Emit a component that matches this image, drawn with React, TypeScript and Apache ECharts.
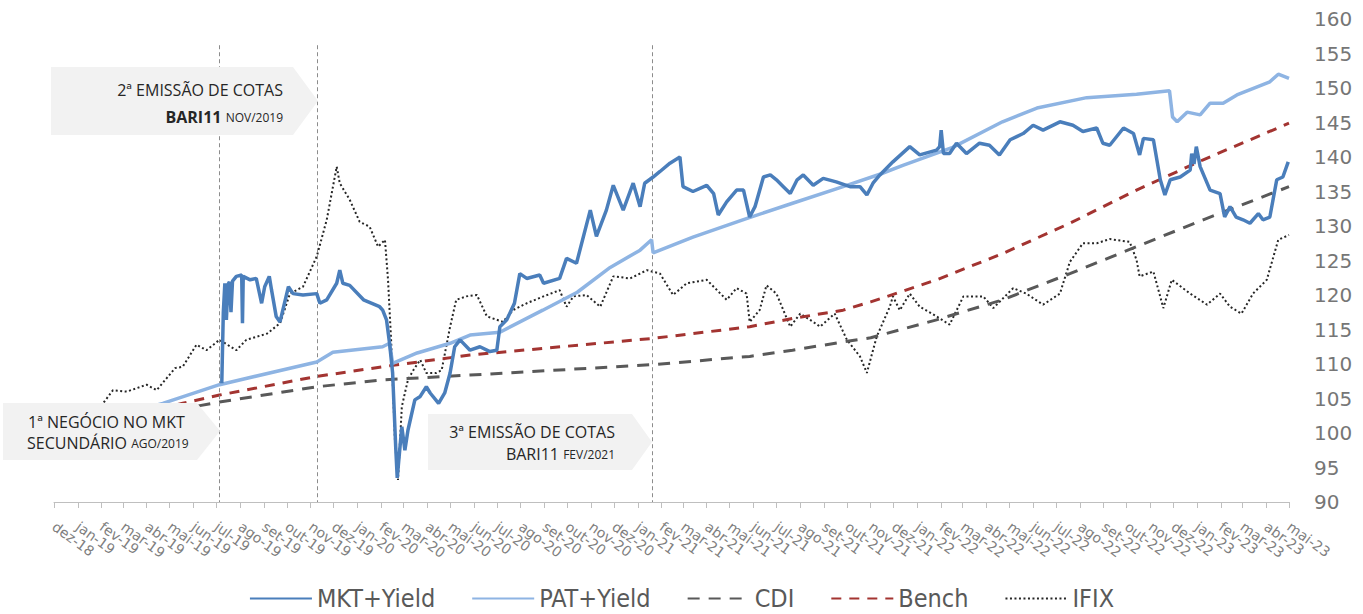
import React, { useEffect, useRef } from "react";
import * as echarts from "echarts";

const monthNames = ["jan", "fev", "mar", "abr", "mai", "jun", "jul", "ago", "set", "out", "nov", "dez"];
const xStart = "2018-12-01";
const xEnd = "2023-05-01";
const yMin = 90;
const yMax = 160;
const yStep = 5;

const seriesNames = ["MKT+Yield", "PAT+Yield", "CDI", "Bench", "IFIX"];

const mktDates = [
  "2019-07-08", "2019-07-10", "2019-07-12", "2019-07-14", "2019-07-16", "2019-07-18", "2019-07-20", "2019-07-22", "2019-07-27",
  "2019-08-03", "2019-08-04", "2019-08-05", "2019-08-14", "2019-08-22", "2019-08-29", "2019-09-02", "2019-09-08", "2019-09-11",
  "2019-09-17", "2019-09-22", "2019-10-03", "2019-10-09", "2019-10-22", "2019-11-09", "2019-11-13", "2019-11-22", "2019-12-05",
  "2019-12-09", "2019-12-13", "2019-12-22", "2020-01-09", "2020-01-30", "2020-02-03", "2020-02-08", "2020-02-12", "2020-02-16",
  "2020-02-20", "2020-02-22", "2020-02-24", "2020-02-28", "2020-03-03", "2020-03-07", "2020-03-16", "2020-03-23", "2020-03-31",
  "2020-04-05", "2020-04-16", "2020-04-24", "2020-05-01", "2020-05-07", "2020-05-14", "2020-05-27", "2020-06-09", "2020-06-22",
  "2020-07-01", "2020-07-05", "2020-07-14", "2020-07-24", "2020-07-31", "2020-08-09", "2020-08-26", "2020-08-31", "2020-09-21",
  "2020-09-30", "2020-10-13", "2020-10-31", "2020-11-08", "2020-11-21", "2020-11-30", "2020-12-13", "2020-12-26", "2021-01-04",
  "2021-01-10", "2021-01-21", "2021-01-30", "2021-02-12", "2021-02-25", "2021-03-01", "2021-03-14", "2021-04-01", "2021-04-10",
  "2021-04-16", "2021-04-27", "2021-05-10", "2021-05-19", "2021-05-27", "2021-06-03", "2021-06-14", "2021-06-23", "2021-07-01",
  "2021-07-10", "2021-07-19", "2021-07-28", "2021-08-05", "2021-08-18", "2021-08-31", "2021-09-17", "2021-10-05", "2021-10-18",
  "2021-10-27", "2021-11-04", "2021-11-13", "2021-11-30", "2021-12-22", "2022-01-04", "2022-01-26", "2022-01-30", "2022-02-01",
  "2022-02-04", "2022-02-12", "2022-02-21", "2022-03-06", "2022-03-23", "2022-04-05", "2022-04-18", "2022-05-02", "2022-05-19",
  "2022-06-01", "2022-06-14", "2022-07-06", "2022-07-23", "2022-08-05", "2022-08-23", "2022-08-31", "2022-09-09", "2022-09-27",
  "2022-10-10", "2022-10-18", "2022-10-23", "2022-11-05", "2022-11-14", "2022-11-20", "2022-11-27", "2022-12-10", "2022-12-23",
  "2022-12-25", "2022-12-28", "2022-12-31", "2023-01-05", "2023-01-18", "2023-01-31", "2023-02-06", "2023-02-13", "2023-02-21",
  "2023-03-02", "2023-03-11", "2023-03-22", "2023-03-28", "2023-04-06", "2023-04-15", "2023-04-23", "2023-04-30",
];
const mktValues = [
  107.2, 117.5, 121.7, 116.4, 121.5, 121.9, 117.5, 122.0, 122.7,
  122.9, 115.9, 122.7, 122.2, 122.4, 118.8, 121.2, 122.7, 120.7,
  116.9, 116.1, 121.2, 120.2, 120.0, 120.2, 118.8, 119.3, 121.7,
  123.6, 121.7, 121.4, 119.3, 118.3, 117.8, 116.4, 113.0, 108.7,
  98.0, 93.5, 96.0, 100.9, 97.5, 100.4, 104.8, 105.3, 106.7,
  105.8, 104.3, 105.8, 108.7, 112.5, 113.5, 112.0, 112.5, 111.8,
  112.0, 115.4, 116.4, 118.8, 123.1, 122.4, 122.9, 121.7, 122.4,
  125.3, 124.6, 132.3, 128.5, 132.3, 135.9, 132.3, 136.2, 132.8,
  136.2, 137.1, 137.9, 139.1, 140.0, 135.7, 135.0, 135.9, 134.7,
  131.6, 133.5, 135.2, 135.2, 131.3, 132.8, 137.1, 137.4, 136.7,
  135.7, 134.7, 136.7, 137.4, 135.9, 136.9, 136.4, 135.7, 135.7,
  134.5, 136.2, 137.4, 139.3, 141.5, 140.3, 141.0, 141.5, 143.9,
  140.5, 140.5, 142.0, 140.5, 142.0, 141.7, 140.3, 142.5, 143.4,
  144.6, 143.9, 145.1, 144.6, 143.7, 144.2, 142.0, 141.7, 144.2,
  143.4, 140.3, 142.7, 142.5, 136.7, 134.5, 136.7, 137.1, 138.1,
  140.5, 139.0, 141.5, 138.6, 135.2, 134.7, 131.3, 132.8, 131.3,
  130.9, 130.4, 131.8, 130.9, 131.3, 136.7, 137.1, 139.3,
];

const patDates = [
  "2018-12-01", "2019-04-22", "2019-07-05", "2019-11-09", "2019-11-30", "2020-02-03", "2020-02-12", "2020-02-16", "2020-03-19",
  "2020-05-01", "2020-05-27", "2020-07-05", "2020-08-30", "2020-10-14", "2020-11-26", "2021-01-04", "2021-01-19", "2021-01-21",
  "2021-03-14", "2021-05-18", "2021-07-22", "2021-09-26", "2021-11-13", "2021-12-13", "2022-02-16", "2022-04-22", "2022-06-06",
  "2022-08-10", "2022-10-14", "2022-11-26", "2022-11-30", "2022-12-06", "2022-12-19", "2023-01-05", "2023-01-18", "2023-02-04",
  "2023-02-22", "2023-04-06", "2023-04-17", "2023-05-01",
];
const patValues = [
  100.0, 104.3, 107.0, 110.3, 111.7, 112.5, 113.0, 110.1, 111.6,
  113.0, 114.2, 114.6, 117.8, 120.4, 124.0, 126.5, 128.0, 126.1,
  128.4, 130.9, 133.3, 135.7, 137.5, 138.8, 141.4, 145.1, 147.1,
  148.6, 149.1, 149.6, 145.8, 145.1, 146.5, 146.1, 147.8, 147.8,
  149.0, 150.9, 152.0, 151.4,
];

const cdiDates = [
  "2018-12-01", "2019-07-05", "2019-11-09", "2020-02-03", "2020-05-27", "2021-01-20", "2021-05-27", "2021-07-22", "2021-09-26",
  "2021-11-01", "2022-01-26", "2022-04-22", "2022-07-19", "2022-10-14", "2023-01-09", "2023-05-01",
];
const cdiValues = [100.0, 104.5, 106.7, 107.7, 108.4, 109.9, 111.1, 112.0, 113.2, 113.8, 116.4, 119.3, 123.1, 127.0, 130.9, 135.7];

const benchDates = [
  "2018-12-01", "2019-05-18", "2019-07-05", "2019-11-09", "2020-02-03", "2020-05-27", "2021-01-20", "2021-05-27", "2021-07-22",
  "2021-09-26", "2021-11-01", "2022-01-26", "2022-04-22", "2022-07-19", "2022-10-14", "2023-01-09", "2023-05-01",
];
const benchValues = [100.0, 104.3, 105.5, 108.2, 109.6, 111.3, 113.7, 115.4, 116.6, 117.8, 119.0, 122.2, 126.0, 130.4, 135.2, 139.6, 144.9];

const ifixDates = [
  "2018-12-01", "2019-02-03", "2019-02-16", "2019-03-06", "2019-04-01", "2019-04-14", "2019-05-08", "2019-05-18", "2019-06-05",
  "2019-06-18", "2019-07-05", "2019-07-27", "2019-08-09", "2019-09-05", "2019-09-22", "2019-10-05", "2019-10-22", "2019-11-09",
  "2019-11-22", "2019-12-05", "2019-12-09", "2019-12-22", "2020-01-04", "2020-01-17", "2020-01-28", "2020-02-06", "2020-02-10",
  "2020-02-14", "2020-02-19", "2020-02-23", "2020-02-28", "2020-03-03", "2020-03-07", "2020-03-14", "2020-03-23", "2020-03-31",
  "2020-04-13", "2020-04-20", "2020-05-01", "2020-05-09", "2020-05-22", "2020-06-05", "2020-06-18", "2020-07-09", "2020-07-22",
  "2020-08-09", "2020-08-31", "2020-09-21", "2020-09-30", "2020-10-09", "2020-10-26", "2020-11-13", "2020-11-30", "2020-12-22",
  "2021-01-13", "2021-01-30", "2021-02-16", "2021-03-06", "2021-04-01", "2021-04-27", "2021-05-10", "2021-05-23", "2021-05-27",
  "2021-06-09", "2021-06-18", "2021-07-01", "2021-07-19", "2021-08-01", "2021-08-18", "2021-08-27", "2021-09-15", "2021-10-01",
  "2021-10-18", "2021-10-27", "2021-11-04", "2021-11-09", "2021-11-26", "2021-11-30", "2021-12-09", "2021-12-22", "2022-01-04",
  "2022-01-26", "2022-02-12", "2022-03-02", "2022-03-28", "2022-04-10", "2022-05-06", "2022-05-23", "2022-06-14", "2022-07-06",
  "2022-07-19", "2022-08-05", "2022-08-23", "2022-09-09", "2022-10-05", "2022-10-14", "2022-10-18", "2022-11-05", "2022-11-18",
  "2022-11-29", "2022-12-23", "2023-01-14", "2023-01-31", "2023-02-13", "2023-02-28", "2023-03-15", "2023-04-02", "2023-04-17",
  "2023-05-01",
];
const ifixValues = [
  100.0, 104.3, 106.2, 106.0, 107.0, 106.2, 109.4, 109.6, 112.8,
  112.0, 113.5, 112.0, 113.5, 114.4, 115.9, 120.2, 121.2, 125.6,
  130.9, 138.6, 136.2, 133.8, 130.6, 129.9, 127.0, 128.0, 122.2,
  113.5, 99.0, 93.2, 103.8, 105.8, 107.7, 109.1, 110.6, 108.7,
  108.7, 109.1, 115.4, 119.3, 119.8, 120.0, 116.9, 116.1, 117.8,
  118.8, 119.8, 120.7, 118.3, 119.8, 120.0, 118.3, 122.7, 122.4,
  123.6, 123.1, 120.0, 121.7, 122.2, 119.3, 121.0, 120.2, 116.1,
  117.8, 121.4, 120.2, 115.4, 117.3, 116.1, 115.4, 117.3, 113.5,
  111.1, 108.7, 112.0, 114.0, 118.3, 119.8, 117.8, 120.2, 118.3,
  116.9, 115.7, 119.8, 119.8, 118.1, 121.0, 120.2, 118.6, 120.2,
  124.8, 127.5, 127.5, 128.1, 127.7, 125.1, 122.7, 123.4, 118.1,
  122.2, 120.2, 118.6, 120.2, 118.3, 117.3, 120.2, 122.2, 128.0,
  128.7,
];

const eventDates = ["2019-07-05", "2019-11-09", "2021-01-20"];
const eventLineTop = 156.2;

const toDate = (s: string) => {
  const [y, m, d] = s.split("-").map(Number);
  return new Date(y, m - 1, d).getTime();
};
const pairs = (dates: string[], values: number[]) => dates.map((d, i) => [toDate(d), values[i]]);

const annFont = "Open Sans";

export default function App() {
  const ref = useRef<HTMLDivElement>(null);

  useEffect(() => {
    if (!ref.current) return;
    const chart = echarts.init(ref.current, undefined, { renderer: "svg" });

    const txt = (text: string, x: number, y: number, align: string, extra: any = {}) => ({
      type: "text",
      z: 101,
      style: {
        text,
        x,
        y,
        align,
        verticalAlign: "middle",
        textAlign: align,
        textVerticalAlign: "middle",
        fill: "#262626",
        fontFamily: annFont,
        fontSize: 16,
        ...extra,
      },
    });
    const richStyles = {
      b: { fontFamily: annFont, fontSize: 16, fontWeight: "bold", fill: "#262626", color: "#262626" },
      n: { fontFamily: annFont, fontSize: 16, fill: "#262626", color: "#262626" },
      s: { fontFamily: annFont, fontSize: 12, fill: "#262626", color: "#262626" },
    };

    const lineSeries = (name: string, data: any, color: string, width: number, type: any, z: number) => ({
      name,
      type: "line",
      showSymbol: false,
      symbol: "none",
      data,
      lineStyle: { color, width, type },
      itemStyle: { color },
      z,
    });

    const mkt: any = lineSeries("MKT+Yield", pairs(mktDates, mktValues), "#4a7ebb", 3.5, "solid", 6);
    mkt.markLine = {
      silent: true,
      symbol: "none",
      label: { show: false },
      lineStyle: { color: "#8c8c8c", width: 1, type: [4, 3] },
      data: eventDates.map((d) => [
        { coord: [toDate(d), eventLineTop] },
        { coord: [toDate(d), yMin] },
      ]),
    };

    const option: any = {
      animation: false,
      backgroundColor: "#ffffff",
      grid: { left: 54, right: 74, top: 19, bottom: 112, containLabel: false },
      legend: {
        data: seriesNames,
        left: "center",
        top: 581,
        itemWidth: 62,
        itemHeight: 14,
        itemGap: 36,
        itemStyle: { opacity: 0, borderWidth: 0 },
        textStyle: { fontFamily: "DejaVu Sans Condensed", fontSize: 25, color: "#595959" },
      },
      xAxis: {
        type: "time",
        min: toDate(xStart),
        max: toDate(xEnd),
        splitNumber: 60,
        minInterval: 28 * 86400000,
        maxInterval: 31 * 86400000,
        axisLine: { show: true, lineStyle: { color: "#bfbfbf", width: 1 } },
        axisTick: { show: true, length: 6, lineStyle: { color: "#bfbfbf" } },
        splitLine: { show: false },
        axisLabel: {
          rotate: -36,
          margin: 23,
          fontFamily: "DejaVu Sans",
          fontSize: 14,
          color: "#7f7f7f",
          hideOverlap: false,
          showMinLabel: true,
          showMaxLabel: true,
          formatter: (value: number) => {
            const d = new Date(value);
            return monthNames[d.getMonth()] + "-" + String(d.getFullYear()).slice(2);
          },
        },
      },
      yAxis: {
        type: "value",
        position: "right",
        min: yMin,
        max: yMax,
        interval: yStep,
        axisLine: { show: false },
        axisTick: { show: false },
        splitLine: { show: false },
        axisLabel: { margin: 25, fontFamily: "DejaVu Sans", fontSize: 20, color: "#767676" },
      },
      series: [
        lineSeries("IFIX", pairs(ifixDates, ifixValues), "#262626", 2, [2, 2.5], 2),
        lineSeries("CDI", pairs(cdiDates, cdiValues), "#595959", 3, [12, 9], 3),
        lineSeries("Bench", pairs(benchDates, benchValues), "#a33431", 3, [10, 8], 4),
        lineSeries("PAT+Yield", pairs(patDates, patValues), "#8eb4e3", 3.5, "solid", 5),
        mkt,
      ],
      graphic: [
        {
          type: "polygon",
          z: 100,
          shape: { points: [[51, 67], [293, 67], [318, 101], [293, 135], [51, 135]] },
          style: { fill: "#f2f2f2" },
        },
        txt("2ª EMISSÃO DE COTAS", 283, 90, "right"),
        txt("{b|BARI11} {s|NOV/2019}", 283, 117, "right", { rich: richStyles }),
        {
          type: "polygon",
          z: 100,
          shape: { points: [[3, 403], [197, 403], [220, 431], [197, 460], [3, 460]] },
          style: { fill: "#f2f2f2" },
        },
        txt("1ª NEGÓCIO NO MKT", 28, 422, "left"),
        txt("{n|SECUNDÁRIO} {s|AGO/2019}", 27, 443, "left", { rich: richStyles }),
        {
          type: "polygon",
          z: 100,
          shape: { points: [[428, 414], [632, 414], [652, 442], [632, 470], [428, 470]] },
          style: { fill: "#f2f2f2" },
        },
        txt("3ª EMISSÃO DE COTAS", 615, 432, "right"),
        txt("{n|BARI11} {s|FEV/2021}", 615, 454, "right", { rich: richStyles }),
      ],
    };

    chart.setOption(option);
    return () => chart.dispose();
  }, []);

  return (
    <div
      ref={ref}
      style={{ position: "fixed", left: 0, top: 0, width: 1363, height: 614, background: "#fff" }}
    />
  );
}
